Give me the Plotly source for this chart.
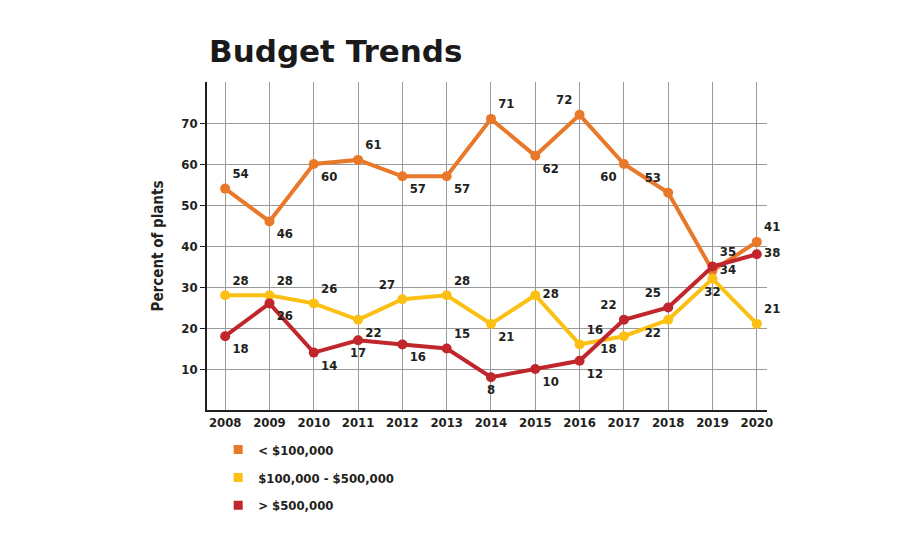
import plotly.graph_objects as go

years = [2008, 2009, 2010, 2011, 2012, 2013, 2014, 2015, 2016, 2017, 2018, 2019, 2020]
under_100k = [54, 46, 60, 61, 57, 57, 71, 62, 72, 60, 53, 34, 41]
mid_100k_500k = [28, 28, 26, 22, 27, 28, 21, 28, 16, 18, 22, 32, 21]
over_500k = [18, 26, 14, 17, 16, 15, 8, 10, 12, 22, 25, 35, 38]
series_names = ["< $100,000", "$100,000 - $500,000", "> $500,000"]
y_ticks = [10, 20, 30, 40, 50, 60, 70]

colors = ["#E8792B", "#FCC015", "#C0262C"]
pos_under = ["top right", "bottom right", "bottom right", "top right", "bottom right", "bottom right",
             "top right", "bottom right", "top left", "bottom left", "top left", "middle right", "top right"]
pos_mid = ["top right", "top right", "top right", "bottom right", "top left", "top right",
           "bottom right", "middle right", "top right", "bottom left", "bottom left", "bottom center", "top right"]
pos_over = ["bottom right", "bottom right", "bottom right", "bottom center", "bottom right", "top right",
            "bottom center", "bottom right", "bottom right", "top left", "top left", "top right", "middle right"]

FONT = "DejaVu Sans Condensed, Roboto, sans-serif"
fig = go.Figure()
for vals, name, col, pos in [(under_100k, series_names[0], colors[0], pos_under),
                             (mid_100k_500k, series_names[1], colors[1], pos_mid),
                             (over_500k, series_names[2], colors[2], pos_over)]:
    fig.add_trace(go.Scatter(
        x=years, y=vals, mode="lines+markers+text", name=name, showlegend=False,
        line=dict(color=col, width=4), marker=dict(color=col, size=10),
        text=[str(v) for v in vals], textposition=pos,
        textfont=dict(family=FONT, size=13, color="#231f20", weight="bold"),
        cliponaxis=False, hoverinfo="x+y+name"))

for name, col in zip(series_names, colors):
    fig.add_trace(go.Scatter(
        x=[None], y=[None], mode="markers", name=name, legendgroup=name,
        marker=dict(color=col, size=9, symbol="square")))

fig.update_layout(
    width=900, height=550,
    margin=dict(l=207, r=133, t=82, b=140),
    paper_bgcolor="white", plot_bgcolor="white",
    font=dict(family=FONT, size=13, color="#231f20"),
    annotations=[dict(text="<b>Budget Trends</b>", xref="paper", yref="paper",
                      x=0.0, y=1.0, yshift=31, xanchor="left", yanchor="middle",
                      showarrow=False,
                      font=dict(family="DejaVu Sans", size=31, color="#1a1a1a", weight=900))],
    legend=dict(x=0.02, y=-0.075, xanchor="left", yanchor="top",
                traceorder="grouped", tracegroupgap=8,
                font=dict(family=FONT, size=13, color="#231f20", weight="bold"),
                bgcolor="rgba(0,0,0,0)"),
    xaxis=dict(range=[2007.59, 2020.23], tickvals=years, ticktext=[str(y) for y in years],
               showgrid=True, gridcolor="#9a9a9a", gridwidth=1,
               showline=True, linecolor="#231f20", linewidth=1.5,
               ticks="", tickfont=dict(family=FONT, size=13, weight="bold"), zeroline=False),
    yaxis=dict(range=[0, 80], tickvals=y_ticks, showgrid=True, gridcolor="#9a9a9a", gridwidth=1,
               showline=True, linecolor="#231f20", linewidth=1.5,
               ticks="outside", ticklen=5, tickcolor="#231f20",
               tickfont=dict(family=FONT, size=13, weight="bold"), zeroline=False,
               title=dict(text="Percent of plants", standoff=14,
                          font=dict(family=FONT, size=15, weight="bold"))),
)

fig.write_html("out.html")
